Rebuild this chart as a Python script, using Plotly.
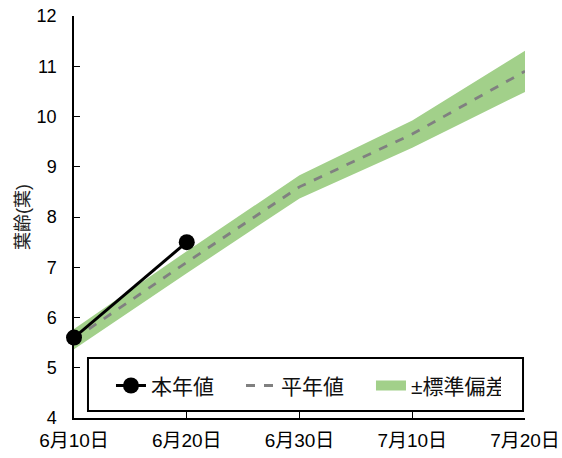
import plotly.graph_objects as go

dates = ["2024-06-10", "2024-06-20", "2024-06-30", "2024-07-10", "2024-07-20"]
date_labels = ["6月10日", "6月20日", "6月30日", "7月10日", "7月20日"]
normal_values = [5.57, 7.10, 8.60, 9.65, 10.90]
std_values = [0.20, 0.22, 0.23, 0.27, 0.41]
this_year_dates = ["2024-06-10", "2024-06-20"]
this_year_values = [5.6, 7.5]
y_ticks = [4, 5, 6, 7, 8, 9, 10, 11, 12]

upper = [m + s for m, s in zip(normal_values, std_values)]
lower = [m - s for m, s in zip(normal_values, std_values)]

FONT = "Liberation Sans, Noto Sans CJK JP, sans-serif"
GREEN = "#a2d08a"

fig = go.Figure()
fig.add_trace(go.Scatter(
    x=dates + dates[::-1], y=upper + lower[::-1],
    fill="toself", fillcolor=GREEN, line=dict(width=0, color=GREEN),
    mode="lines", name="±標準偏差", showlegend=False, hoverinfo="skip"))
# legend-only entry for the band
fig.add_trace(go.Scatter(
    x=[None], y=[None], mode="lines", line=dict(color=GREEN, width=12),
    name="±標準偏差", legendrank=3))
fig.add_trace(go.Scatter(
    x=dates, y=normal_values, mode="lines",
    line=dict(color="#808080", width=2.8, dash="dash"),
    name="平年値", legendrank=2))
fig.add_trace(go.Scatter(
    x=this_year_dates, y=this_year_values, mode="lines+markers",
    line=dict(color="black", width=3), marker=dict(color="black", size=16),
    name="本年値", legendrank=1, cliponaxis=False))

# legend frame
fig.add_shape(type="rect", xref="paper", yref="paper",
              x0=0.031, x1=0.9956, y0=0.0174, y1=0.149,
              line=dict(color="black", width=2), fillcolor="white", layer="below")

fig.update_layout(
    width=562, height=458,
    margin=dict(l=74, r=37, t=16, b=40, autoexpand=False),
    paper_bgcolor="white", plot_bgcolor="white",
    font=dict(family=FONT, size=16, color="black"),
    showlegend=True,
    legend=dict(orientation="h", x=0.082, y=0.08, xanchor="left", yanchor="middle",
                borderwidth=0, bgcolor="rgba(0,0,0,0)",
                font=dict(size=21, family=FONT, color="#111"),
                entrywidth=85, traceorder="normal"),
    xaxis=dict(range=[dates[0], dates[-1]], tickvals=dates, ticktext=date_labels,
               showgrid=False, zeroline=False, showline=True, linecolor="black",
               linewidth=1.5, ticks="inside", ticklen=6, tickcolor="black",
               tickfont=dict(size=19), automargin=False, ticklabelstandoff=4),
    yaxis=dict(range=[4, 12], tickvals=y_ticks, showgrid=False, zeroline=False,
               showline=True, linecolor="black", linewidth=1.5, ticks="inside",
               ticklen=6, tickcolor="black", tickfont=dict(size=18),
               automargin=False, ticklabelstandoff=12,
               title=dict(text="葉齢(葉)", font=dict(size=18, color="#222"), standoff=2)),
)

fig.write_html("out.html", config={"displayModeBar": False},
               post_script="document.body.style.margin='0';")
